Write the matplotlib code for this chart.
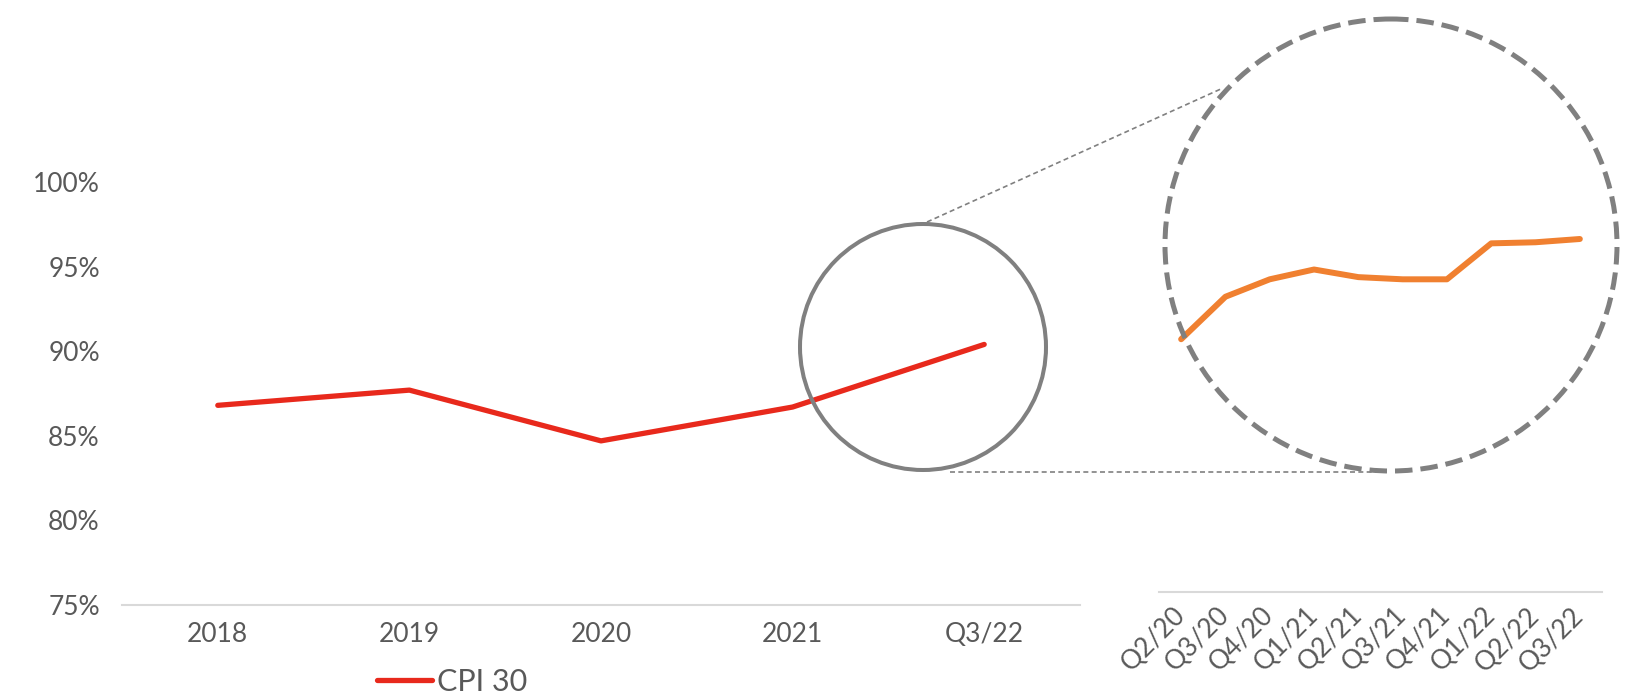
import matplotlib
matplotlib.use("Agg")
import matplotlib.pyplot as plt
from matplotlib.patches import Circle
from matplotlib.ticker import FuncFormatter

plt.rcParams['font.family'] = ['Lato', 'DejaVu Sans']

# yearly series
years = ['2018', '2019', '2020', '2021', 'Q3/22']
cpi30 = [86.8, 87.7, 84.7, 86.7, 90.4]

# quarterly zoom
quarters = ['Q2/20', 'Q3/20', 'Q4/20', 'Q1/21', 'Q2/21',
            'Q3/21', 'Q4/21', 'Q1/22', 'Q2/22', 'Q3/22']
cpi30_q = [81.2, 85.1, 86.7, 87.6, 86.9, 86.7, 86.7, 90.0, 90.1, 90.4]

RED = '#E8291C'
ORANGE = '#F08030'
GREY = '#808080'
TXT = '#595959'

W, H = 1629, 698
fig = plt.figure(figsize=(W / 100, H / 100), dpi=100)
fig.patch.set_facecolor('white')

# main chart
ax = fig.add_axes([122 / W, 1 - 605 / H, 958 / W, 423 / H])
x = range(len(years))
ax.plot(x, cpi30, color=RED, lw=3.8, solid_capstyle='round',
        solid_joinstyle='round', label='CPI 30', clip_on=False)
ax.set_xlim(-0.5, len(years) - 0.5)
ax.set_ylim(75, 100)
ax.set_yticks([75, 80, 85, 90, 95, 100])
ax.yaxis.set_major_formatter(FuncFormatter(lambda v, p: f'{v:.0f}%'))
ax.set_xticks(list(x))
ax.set_xticklabels(years)
for s in ['top', 'right', 'left']:
    ax.spines[s].set_visible(False)
ax.spines['bottom'].set_color('#D9D9D9')
ax.spines['bottom'].set_linewidth(1.5)
ax.tick_params(axis='both', length=0, labelsize=19, colors=TXT)
ax.tick_params(axis='y', pad=16)
ax.tick_params(axis='x', pad=12)

leg = ax.legend(loc='center left', bbox_to_anchor=(377 / W, 16 / H),
                bbox_transform=fig.transFigure, frameon=False,
                fontsize=22, handlelength=1.8, handletextpad=0.15,
                borderpad=0, borderaxespad=0)
for t in leg.get_texts():
    t.set_color(TXT)

# quarterly inset
ax2 = fig.add_axes([1159 / W, 1 - 592 / H, 443 / W, 572 / H])
xq = range(len(quarters))
ax2.plot(xq, cpi30_q, color=ORANGE, lw=4.3, solid_capstyle='round',
         solid_joinstyle='round')
ax2.set_xlim(-0.5, len(quarters) - 0.5)
ax2.set_ylim(58.0, 110.5)
ax2.set_yticks([])
ax2.set_xticks(list(xq))
ax2.set_xticklabels(quarters, rotation=45, ha='right', va='center',
                    rotation_mode='anchor')
for s in ['top', 'right', 'left']:
    ax2.spines[s].set_visible(False)
ax2.spines['bottom'].set_color('#D9D9D9')
ax2.spines['bottom'].set_linewidth(1.5)
ax2.tick_params(axis='x', length=0, labelsize=19, colors=TXT, pad=14)
ax2.patch.set_alpha(0)

# magnifier circles and connectors, in pixel space
ov = fig.add_axes([0, 0, 1, 1])
ov.set_xlim(0, W)
ov.set_ylim(H, 0)
ov.axis('off')
ov.patch.set_alpha(0)
ov.add_patch(Circle((923, 347), 123, fill=False, ec=GREY, lw=2.9))
ov.add_patch(Circle((1391, 245), 226, fill=False, ec=GREY, lw=3.6,
                    ls=(0, (3.5, 1.6))))
ov.plot([927, 1223], [222, 88], color=GREY, lw=1.2, ls=(0, (3, 2)))
ov.plot([950, 1380], [472, 472], color=GREY, lw=1.2, ls=(0, (3, 2)))

fig.savefig('out.png', dpi=100, facecolor='white')
